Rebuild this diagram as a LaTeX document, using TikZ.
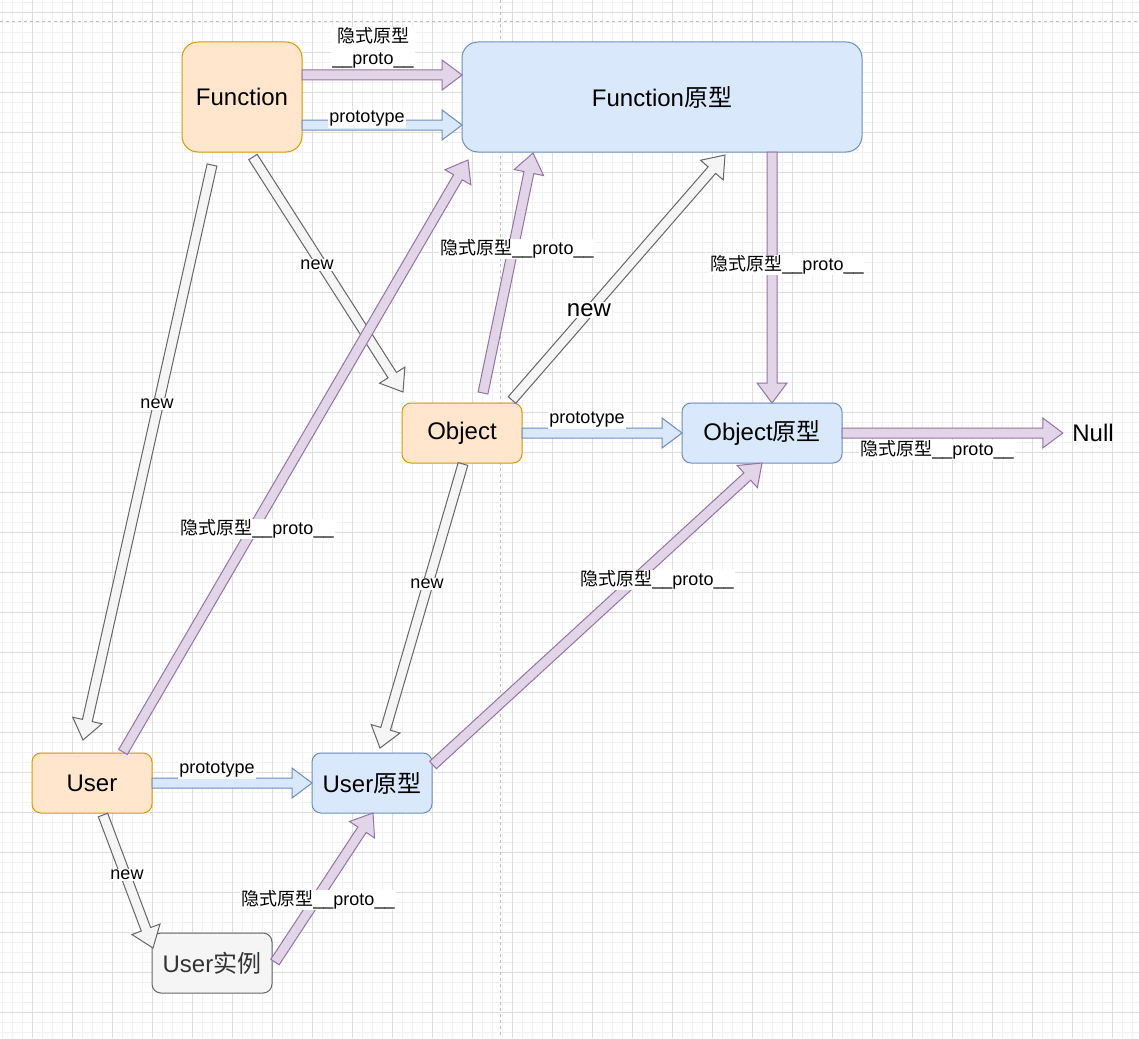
\documentclass[tikz,border=0pt]{standalone}
\usepackage{fontspec}
\setmainfont{Liberation Sans}
\newfontfamily\cjk{Noto Sans CJK SC}
\usetikzlibrary{calc}
\definecolor{orfill}{HTML}{FFE6CC}
\definecolor{ordraw}{HTML}{D79B00}
\definecolor{blfill}{HTML}{DAE8FC}
\definecolor{bldraw}{HTML}{6C8EBF}
\definecolor{pufill}{HTML}{E1D5E7}
\definecolor{pudraw}{HTML}{9673A6}
\definecolor{grfill}{HTML}{F5F5F5}
\definecolor{grdraw}{HTML}{666666}
\definecolor{grtext}{HTML}{333333}

% wide hollow arrow: #1 style, #2 tail, #3 tip
\newcommand{\fatarrow}[3]{%
  \coordinate (ta) at #2;
  \coordinate (hb) at #3;
  \coordinate (hc) at ($(hb)!20pt!(ta)$);
  \draw[#1] ($(ta)!5pt!90:(hb)$) -- ($(hc)!5pt!90:(hb)$) -- ($(hc)!15pt!90:(hb)$)
    -- (hb) -- ($(hc)!15pt!-90:(hb)$) -- ($(hc)!5pt!-90:(hb)$) -- ($(ta)!5pt!-90:(hb)$) -- cycle;
}

\begin{document}
\begin{tikzpicture}[
  x=1pt, y=-1pt,
  box/.style={draw, line width=1pt, inner sep=0pt, outer sep=0pt,
    font=\fontsize{24}{28}\selectfont},
  fnbox/.style={box, fill=orfill, draw=ordraw},
  protobox/.style={box, fill=blfill, draw=bldraw},
  instbox/.style={box, fill=grfill, draw=grdraw, text=grtext},
  lbl/.style={fill=white, inner sep=1pt, yshift=-2pt, font=\fontsize{18}{22}\selectfont, align=center},
  purparrow/.style={fill=pufill, draw=pudraw, line width=1pt, line join=miter},
  bluearrow/.style={fill=blfill, draw=bldraw, line width=1pt, line join=miter},
  greyarrow/.style={fill=grfill, draw=grdraw, line width=1pt, line join=miter},
  minorgrid/.style={draw=black!5, line width=0.8pt},
  majorgrid/.style={draw=black!13, line width=0.8pt},
  pagebreak/.style={draw=black!25, dashed, line width=0.8pt}
]
  \useasboundingbox[fill=white] (0,0) rectangle (1139,1038);
  % grid
  \foreach \x in {2,12,...,1132} \draw[minorgrid] (\x,0) -- (\x,1038);
  \foreach \y in {2,12,...,1032} \draw[minorgrid] (0,\y) -- (1139,\y);
  \foreach \x in {32,72,...,1112} \draw[majorgrid] (\x,0) -- (\x,1038);
  \foreach \y in {12,52,...,1012} \draw[majorgrid] (0,\y) -- (1139,\y);
  \draw[pagebreak] (0,21) -- (1139,21);
  \draw[pagebreak] (500,0) -- (500,1038);

  % nodes
  \node[fnbox, minimum width=120, minimum height=110, rounded corners=16] (fn) at (242,97) {Function};
  \node[protobox, minimum width=400, minimum height=110, rounded corners=16] (fnproto) at (662,97) {Function{\cjk 原型}};
  \node[fnbox, minimum width=120, minimum height=60, rounded corners=9] (obj) at (462,433) {Object};
  \node[protobox, minimum width=160, minimum height=60, rounded corners=9] (objproto) at (762,433) {Object{\cjk 原型}};
  \node[fnbox, minimum width=120, minimum height=60, rounded corners=9] (user) at (92,783) {User};
  \node[protobox, minimum width=120, minimum height=60, rounded corners=9] (userproto) at (372,783) {User{\cjk 原型}};
  \node[instbox, minimum width=120, minimum height=60, rounded corners=9] (userinst) at (212,963) {User{\cjk 实例}};
  \node[inner sep=0pt, minimum width=60, font=\fontsize{24}{28}\selectfont] (nul) at (1093,433) {Null};

  % new
  \fatarrow{greyarrow}{([shift={(-30,13)}]fn.south)}{([shift={(-9,-13)}]user.north)}
  \fatarrow{greyarrow}{([shift={(11,5)}]fn.south)}{([shift={(1,-11)}]obj.north west)}
  \fatarrow{greyarrow}{([shift={(-10,-3)}]obj.north east)}{([shift={(63,3)}]fnproto.south)}
  \fatarrow{greyarrow}{([shift={(1,1)}]obj.south)}{([shift={(8,-5)}]userproto.north)}
  \fatarrow{greyarrow}{([shift={(11,2)}]user.south)}{([shift={(1,-15)}]userinst.west)}
  % prototype
  \fatarrow{bluearrow}{([yshift=-28]fn.east)}{([yshift=-28]fnproto.west)}
  \fatarrow{bluearrow}{(obj.east)}{(objproto.west)}
  \fatarrow{bluearrow}{(user.east)}{(userproto.west)}
  % __proto__
  \fatarrow{purparrow}{([yshift=22]fn.east)}{([yshift=22]fnproto.west)}
  \fatarrow{purparrow}{([shift={(31,-1)}]user.north)}{([shift={(6,8)}]fnproto.south west)}
  \fatarrow{purparrow}{([shift={(21,-10)}]obj.north)}{([shift={(71,1)}]fnproto.south west)}
  \fatarrow{purparrow}{([xshift=110]fnproto.south)}{([xshift=10]objproto.north)}
  \fatarrow{purparrow}{(objproto.east)}{(nul.west)}
  \fatarrow{purparrow}{([shift={(1,-18)}]userproto.east)}{(objproto.south)}
  \fatarrow{purparrow}{([shift={(3,-1)}]userinst.east)}{([xshift=1]userproto.south)}

  % labels
  \node[lbl] (l1) at (373,46) {{\cjk 隐式原型}\\\_\_proto\_\_};
  \node[lbl] (l2) at (367,117) {prototype};
  \node[lbl] (l3) at (157,402) {new};
  \node[lbl] (l4) at (317,263) {new};
  \node[lbl] (l5) at (257,527) {{\cjk 隐式原型}\_\_proto\_\_};
  \node[lbl] (l6) at (517,247) {{\cjk 隐式原型}\_\_proto\_\_};
  \node[lbl, font=\fontsize{24}{28}\selectfont] (l7) at (589,308) {new};
  \node[lbl] (l8) at (787,263) {{\cjk 隐式原型}\_\_proto\_\_};
  \node[lbl] (l9) at (587,418) {prototype};
  \node[lbl] (l10) at (937,448) {{\cjk 隐式原型}\_\_proto\_\_};
  \node[lbl] (l11) at (427,582) {new};
  \node[lbl] (l12) at (657,578) {{\cjk 隐式原型}\_\_proto\_\_};
  \node[lbl] (l13) at (217,768) {prototype};
  \node[lbl] (l14) at (127,873) {new};
  \node[lbl] (l15) at (318,898) {{\cjk 隐式原型}\_\_proto\_\_};
\end{tikzpicture}
\end{document}
